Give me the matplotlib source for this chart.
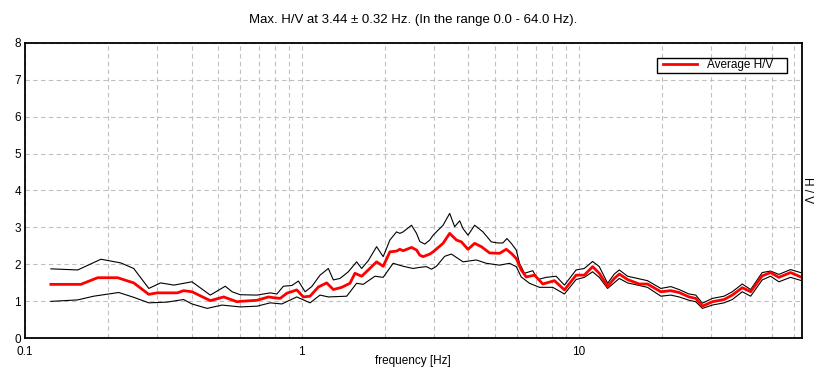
import matplotlib
matplotlib.use("Agg")
import matplotlib.pyplot as plt
from matplotlib.patches import Rectangle
from matplotlib.ticker import FixedLocator, NullFormatter

plt.rcParams['font.family'] = ['Liberation Sans', 'DejaVu Sans']

# average H/V curve
freq_avg = [0.124, 0.159, 0.183, 0.216, 0.247, 0.280, 0.300, 0.355, 0.374, 0.401,
            0.467, 0.522, 0.583, 0.599, 0.689, 0.758, 0.790, 0.835, 0.883, 0.959,
            1.013, 1.071, 1.148, 1.230, 1.300, 1.394, 1.493, 1.556, 1.645, 1.738,
            1.863, 1.968, 2.081, 2.199, 2.261, 2.323, 2.491, 2.597, 2.669, 2.743,
            2.900, 2.981, 3.238, 3.422, 3.619, 3.772, 3.985, 4.212, 4.454, 4.771,
            5.184, 5.480, 5.712, 5.954, 6.206, 6.468, 6.930, 7.425, 8.181, 8.889,
            9.795, 10.49, 11.24, 11.88, 12.73, 13.46, 14.03, 15.03, 16.56, 17.74,
            19.83, 21.54, 23.08, 25.07, 26.51, 28.01, 30.42, 33.53, 35.93, 39.03,
            41.84, 46.07, 49.39, 52.92, 58.32, 64.0]
hv_avg = [1.46, 1.46, 1.64, 1.64, 1.50, 1.19, 1.23, 1.23, 1.29, 1.26,
          1.02, 1.12, 0.99, 1.00, 1.03, 1.12, 1.10, 1.08, 1.22, 1.31,
          1.12, 1.14, 1.39, 1.50, 1.32, 1.38, 1.49, 1.76, 1.68, 1.85,
          2.07, 1.95, 2.34, 2.36, 2.41, 2.37, 2.46, 2.39, 2.25, 2.21,
          2.28, 2.34, 2.57, 2.84, 2.66, 2.61, 2.41, 2.57, 2.48, 2.31,
          2.30, 2.41, 2.30, 2.16, 1.85, 1.66, 1.71, 1.47, 1.56, 1.31,
          1.71, 1.71, 1.94, 1.76, 1.41, 1.62, 1.74, 1.59, 1.47, 1.47,
          1.26, 1.29, 1.24, 1.12, 1.08, 0.87, 0.99, 1.05, 1.17, 1.37,
          1.26, 1.69, 1.78, 1.65, 1.78, 1.65]

# upper standard deviation curve
freq_up = [0.124, 0.155, 0.188, 0.222, 0.247, 0.280, 0.309, 0.345, 0.401, 0.467,
           0.529, 0.560, 0.599, 0.689, 0.769, 0.813, 0.858, 0.921, 0.972, 1.028,
           1.086, 1.164, 1.247, 1.300, 1.374, 1.472, 1.578, 1.645, 1.738, 1.863,
           1.968, 2.081, 2.199, 2.261, 2.323, 2.491, 2.597, 2.669, 2.782, 2.900,
           2.981, 3.238, 3.422, 3.567, 3.719, 3.822, 3.985, 4.212, 4.513, 4.838,
           5.110, 5.327, 5.507, 5.712, 5.954, 6.118, 6.377, 6.831, 7.121, 7.636,
           8.296, 8.889, 9.795, 10.49, 11.24, 11.88, 12.73, 13.46, 14.03, 15.03,
           17.74, 19.83, 21.54, 23.08, 25.07, 26.51, 28.01, 30.42, 33.53, 35.93,
           39.03, 41.84, 46.07, 49.39, 52.92, 58.32, 64.0]
hv_up = [1.88, 1.85, 2.14, 2.04, 1.89, 1.35, 1.50, 1.44, 1.53, 1.17,
         1.41, 1.26, 1.18, 1.17, 1.23, 1.20, 1.41, 1.43, 1.55, 1.26,
         1.40, 1.71, 1.89, 1.58, 1.62, 1.80, 2.07, 1.89, 2.10, 2.48,
         2.21, 2.66, 2.88, 2.84, 2.88, 3.06, 2.84, 2.62, 2.55, 2.66,
         2.79, 3.06, 3.38, 3.02, 3.18, 2.97, 2.79, 3.06, 2.88, 2.61,
         2.58, 2.58, 2.70, 2.57, 2.39, 2.03, 1.76, 1.83, 1.59, 1.65,
         1.68, 1.44, 1.85, 1.89, 2.08, 1.94, 1.49, 1.74, 1.85, 1.68,
         1.56, 1.35, 1.40, 1.32, 1.20, 1.17, 0.95, 1.08, 1.14, 1.26,
         1.47, 1.32, 1.78, 1.82, 1.73, 1.86, 1.77]

# lower standard deviation curve
freq_lo = [0.124, 0.155, 0.177, 0.218, 0.247, 0.280, 0.326, 0.374, 0.401, 0.455,
           0.515, 0.599, 0.689, 0.769, 0.847, 0.959, 1.071, 1.164, 1.247, 1.453,
           1.578, 1.667, 1.837, 1.968, 2.138, 2.323, 2.524, 2.669, 2.821, 2.941,
           3.065, 3.284, 3.471, 3.822, 4.272, 4.642, 5.184, 5.631, 5.954, 6.206,
           6.646, 7.222, 8.066, 8.889, 9.795, 10.49, 11.24, 11.88, 12.73, 14.03,
           15.03, 17.74, 19.83, 21.54, 23.08, 25.07, 26.51, 28.01, 30.42, 33.53,
           35.93, 39.03, 41.84, 46.07, 49.39, 52.92, 58.32, 64.0]
hv_lo = [1.00, 1.04, 1.14, 1.24, 1.11, 0.96, 0.98, 1.05, 0.93, 0.81,
         0.90, 0.85, 0.87, 0.96, 0.93, 1.12, 0.96, 1.17, 1.12, 1.14,
         1.49, 1.46, 1.68, 1.65, 2.03, 1.95, 1.89, 1.92, 1.94, 1.87,
         1.95, 2.22, 2.28, 2.07, 2.12, 2.03, 1.98, 2.03, 1.94, 1.66,
         1.49, 1.38, 1.38, 1.20, 1.59, 1.65, 1.80, 1.65, 1.35, 1.62,
         1.50, 1.38, 1.14, 1.17, 1.12, 1.03, 0.99, 0.81, 0.90, 0.96,
         1.05, 1.26, 1.14, 1.58, 1.68, 1.53, 1.65, 1.56]

x_ticks = [0.1, 1, 10]
x_labels = ["0.1", "1", "10"]
x_minor = [0.2, 0.3, 0.4, 0.5, 0.6, 0.7, 0.8, 0.9,
           2, 3, 4, 5, 6, 7, 8, 9, 20, 30, 40, 50, 60]

fig = plt.figure(figsize=(8.26, 3.81), dpi=100)
ax = fig.add_axes([0.0303, 0.112, 0.9403, 0.776])

ax.plot(freq_up, hv_up, color="black", lw=0.8)
ax.plot(freq_lo, hv_lo, color="black", lw=0.8)
ax.plot(freq_avg, hv_avg, color="#ff0000", lw=2.0, label="Average H/V")

ax.set_xscale("log")
ax.set_xlim(0.1, 64)
ax.set_ylim(0, 8)
ax.set_xticks(x_ticks)
ax.set_xticklabels(x_labels)
ax.xaxis.set_minor_locator(FixedLocator(x_minor))
ax.xaxis.set_minor_formatter(NullFormatter())
ax.set_yticks(range(0, 9))

ax.grid(True, which="both", color="#c0c0c0", ls=(0, (4, 3)), lw=0.8)
ax.tick_params(which="both", length=0, labelsize=8.5)
ax.tick_params(axis="x", pad=5.5)
ax.tick_params(axis="y", pad=3)
for s in ax.spines.values():
    s.set_linewidth(1.3)

ax.set_xlabel("frequency [Hz]", fontsize=8.5, labelpad=-2)
ax.yaxis.set_label_position("right")
ax.set_ylabel("H / V", fontsize=8.5, rotation=-90, labelpad=8)
ax.set_title("Max. H/V at 3.44 \u00b1 0.32 Hz. (In the range 0.0 - 64.0 Hz).",
             fontsize=9.5, pad=14)

# legend without its own frame, boxed by a plain rectangle like the original
ax.legend(loc="center left", bbox_to_anchor=(0.822, 0.923), fontsize=8.5,
          frameon=False, borderpad=0, borderaxespad=0,
          handlelength=2.8, handletextpad=0.85)
ax.add_patch(Rectangle((0.8137, 0.8975), 0.1673, 0.0505, transform=ax.transAxes,
                       facecolor="white", edgecolor="black", lw=1.0, zorder=4))
ax.get_legend().set_zorder(5)

fig.savefig("out.png", dpi=100)
